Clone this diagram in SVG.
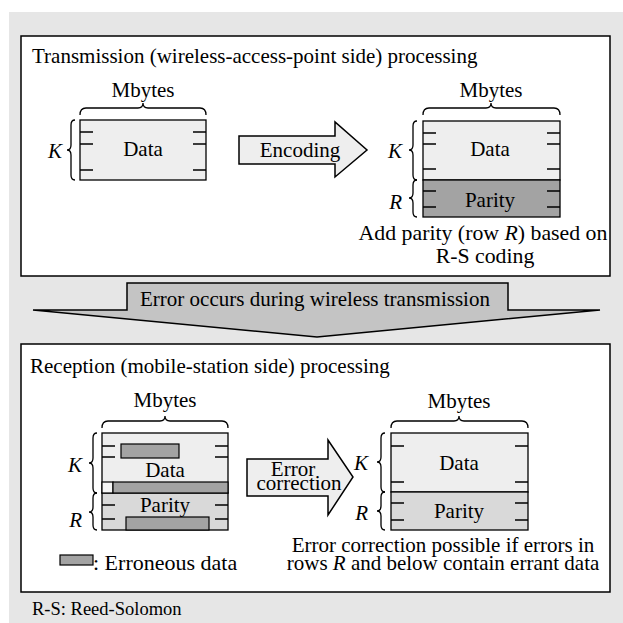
<svg xmlns="http://www.w3.org/2000/svg" width="623" height="623" viewBox="0 0 623 623">
<style>
text{font-family:"Liberation Serif","Times New Roman",serif;font-size:21px;fill:#000}
.it{font-style:italic}
.c{text-anchor:middle}
.e{text-anchor:end}
.ln{fill:none;stroke:#000;stroke-width:1.3}
.box{fill:#fff;stroke:#000;stroke-width:1.5}
.dat{fill:#eeeeee;stroke:#000;stroke-width:1.3}
.par{fill:#a3a3a3;stroke:#000;stroke-width:1.3}
.parl{fill:#d9d9d9;stroke:#000;stroke-width:1.3}
.err{fill:#a3a3a3;stroke:#000;stroke-width:1.2}
.arr{fill:#eeeeee;stroke:#000;stroke-width:1.5}
.big{fill:#c4c4c4;stroke:#000;stroke-width:1.5}
</style>
<rect x="9" y="12" width="614" height="611" fill="#e6e6e6"/>

<g id="tx-panel">
<rect class="box" x="21" y="36" width="589" height="240"/>
<text x="32" y="63">Transmission (wireless-access-point side) processing</text>
</g>

<g id="tx-data">
<text class="c" x="143" y="97">Mbytes</text>
<path class="ln" d="M80 115 Q80 108 86 108 L138 108 Q143 108 143 103 Q143 108 148 108 L200 108 Q206 108 206 115"/>
<rect class="dat" x="80" y="120" width="126" height="60"/>
<path class="ln" d="M80 132H93M80 144H93M80 170H93M193 132H206M193 144H206M193 170H206"/>
<text class="c" x="143" y="156">Data</text>
<path class="ln" d="M75 120 Q71 120 71 125 L71 145 Q71 150 67 150 Q71 150 71 155 L71 175 Q71 180 75 180"/>
<text class="it e" x="62" y="158">K</text>
</g>

<g id="encoding">
<polygon class="arr" points="239,136 335,136 335,122 367,150 335,177 335,164 239,164"/>
<text class="c" x="300" y="157">Encoding</text>
</g>

<g id="tx-encoded">
<text class="c" x="491" y="97">Mbytes</text>
<path class="ln" d="M423 115 Q423 108 429 108 L486 108 Q491 108 491 103 Q491 108 496 108 L554 108 Q560 108 560 115"/>
<rect class="dat" x="423" y="121" width="137" height="59"/>
<rect class="par" x="423" y="180" width="137" height="37"/>
<path class="ln" d="M423 133H436M423 144H436M423 169H436M423 191H436M423 207H436M547 133H560M547 144H560M547 169H560M547 191H560M547 207H560"/>
<text class="c" x="490" y="156">Data</text>
<text class="c" x="490" y="207">Parity</text>
<path class="ln" d="M417 121 Q413 121 413 126 L413 145 Q413 150 409 150 Q413 150 413 155 L413 175 Q413 180 417 180"/>
<path class="ln" d="M417 180 Q413 180 413 185 L413 193 Q413 198 409 198 Q413 198 413 203 L413 212 Q413 217 417 217"/>
<text class="it e" x="402" y="158">K</text>
<text class="it e" x="402" y="209">R</text>
<text class="c" x="483" y="240" style="font-size:21.8px">Add parity (row <tspan class="it">R</tspan>) based on</text>
<text class="c" x="485" y="263" style="font-size:21.8px">R-S coding</text>
</g>

<g id="error-occurs">
<polygon class="big" points="127,283 508,283 508,310 600,310 317,337 33,310 127,310"/>
<text class="c" x="315" y="306">Error occurs during wireless transmission</text>
</g>

<g id="rx-panel">
<rect class="box" x="21" y="344" width="589" height="248"/>
<text x="30" y="373">Reception (mobile-station side) processing</text>
</g>

<g id="rx-data">
<text class="c" x="165" y="407">Mbytes</text>
<path class="ln" d="M102 428 Q102 421 108 421 L160 421 Q165 421 165 416 Q165 421 170 421 L222 421 Q228 421 228 428"/>
<rect class="dat" x="102" y="433" width="126" height="60"/>
<rect class="parl" x="102" y="493" width="126" height="37"/>
<path class="ln" d="M102 446H115M102 457H115M102 505H115M102 519H115M215 446H228M215 457H228M215 505H228M215 519H228"/>
<rect class="err" x="121" y="444" width="58" height="14"/>
<rect x="102" y="482" width="11" height="11" fill="#f6f6f6" stroke="#000" stroke-width="1.2"/>
<rect class="err" x="113" y="482" width="115" height="11"/>
<rect class="err" x="126" y="517" width="83" height="13"/>
<text class="c" x="165" y="477">Data</text>
<text class="c" x="165" y="512">Parity</text>
<path class="ln" d="M97 433 Q93 433 93 438 L93 458 Q93 463 89 463 Q93 463 93 468 L93 488 Q93 493 97 493"/>
<path class="ln" d="M97 493 Q93 493 93 498 L93 507 Q93 512 89 512 Q93 512 93 517 L93 525 Q93 530 97 530"/>
<text class="it e" x="82" y="472">K</text>
<text class="it e" x="82" y="527">R</text>
</g>

<g id="legend">
<rect class="err" x="60" y="555" width="33" height="10"/>
<text x="93" y="570" style="font-size:22px">: Erroneous data</text>
</g>

<g id="error-correction">
<polygon class="arr" points="247,459 328,459 328,440 353,477 328,515 328,496 247,496"/>
<text class="c" x="293" y="476">Error</text>
<text class="c" x="299" y="490">correction</text>
</g>

<g id="rx-corrected">
<text class="c" x="459" y="408">Mbytes</text>
<path class="ln" d="M391 428 Q391 421 397 421 L454 421 Q459 421 459 416 Q459 421 464 421 L522 421 Q528 421 528 428"/>
<rect class="dat" x="391" y="433" width="137" height="59"/>
<rect class="parl" x="391" y="492" width="137" height="38"/>
<path class="ln" d="M391 446H404M391 482H404M391 503H404M391 520H404M515 446H528M515 482H528M515 503H528M515 520H528"/>
<text class="c" x="459" y="470">Data</text>
<text class="c" x="459" y="518">Parity</text>
<path class="ln" d="M385 433 Q381 433 381 438 L381 457 Q381 462 377 462 Q381 462 381 467 L381 487 Q381 492 385 492"/>
<path class="ln" d="M385 492 Q381 492 381 497 L381 506 Q381 511 377 511 Q381 511 381 516 L381 525 Q381 530 385 530"/>
<text class="it e" x="368" y="470">K</text>
<text class="it e" x="368" y="520">R</text>
<text class="c" x="443" y="552">Error correction possible if errors in</text>
<text class="c" x="443" y="570">rows <tspan class="it">R</tspan> and below contain errant data</text>
</g>

<g id="footnote">
<text x="32" y="615" style="font-size:18.5px">R-S: Reed-Solomon</text>
</g>
</svg>
